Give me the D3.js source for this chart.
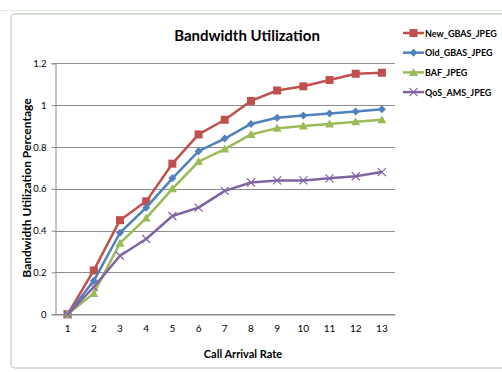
<!DOCTYPE html>
<html>
<head>
<meta charset="utf-8">
<script src="https://cdn.jsdelivr.net/npm/d3@7"></script>
<style>
  body { margin: 0; background: #fff; }
  svg { font-family: Lato, "Open Sans", sans-serif; }
</style>
</head>
<body>
<svg width="502" height="372"></svg>
<script>
const CATEGORIES = [1, 2, 3, 4, 5, 6, 7, 8, 9, 10, 11, 12, 13];
const NEW_GBAS = [0, 0.21, 0.45, 0.54, 0.72, 0.86, 0.93, 1.02, 1.07, 1.09, 1.12, 1.15, 1.155];
const OLD_GBAS = [0, 0.16, 0.39, 0.51, 0.65, 0.78, 0.84, 0.91, 0.94, 0.95, 0.96, 0.97, 0.98];
const BAF = [0, 0.10, 0.34, 0.46, 0.60, 0.73, 0.79, 0.86, 0.89, 0.90, 0.91, 0.92, 0.93];
const QOS_AMS = [0, 0.13, 0.28, 0.36, 0.47, 0.51, 0.59, 0.63, 0.64, 0.64, 0.65, 0.66, 0.68];
const Y_TICKS = [0, 0.2, 0.4, 0.6, 0.8, 1, 1.2];

const series = [
  { name: 'New_GBAS_JPEG', values: NEW_GBAS, color: '#C0504D', marker: 'square' },
  { name: 'Old_GBAS_JPEG', values: OLD_GBAS, color: '#4F81BD', marker: 'diamond' },
  { name: 'BAF_JPEG', values: BAF, color: '#9BBB59', marker: 'triangle' },
  { name: 'QoS_AMS_JPEG', values: QOS_AMS, color: '#8064A2', marker: 'x' }
];

const svg = d3.select('svg');

// chart frame
svg.append('line').attr('x1', 0).attr('x2', 502).attr('y1', 10.5).attr('y2', 10.5)
  .attr('stroke', '#e3e8e0');
svg.append('rect')
  .attr('x', 11).attr('y', 14).attr('width', 500).attr('height', 354)
  .attr('rx', 4)
  .attr('fill', '#fff').attr('stroke', '#c9d7c3').attr('stroke-width', 1.5);

const plot = { left: 54.5, right: 395, top: 63.3, bottom: 314.3 };

const x = d3.scaleBand().domain(CATEGORIES).range([plot.left, plot.right]);
const y = d3.scaleLinear().domain([0, 1.2]).range([plot.bottom, plot.top]);

// grid
svg.append('g')
  .selectAll('line')
  .data(Y_TICKS)
  .join('line')
  .attr('x1', plot.left).attr('x2', plot.right)
  .attr('y1', d => Math.round(y(d)) + 0.5).attr('y2', d => Math.round(y(d)) + 0.5)
  .attr('stroke', '#8c8c8c').attr('stroke-width', 1);

// y axis
const yAxis = svg.append('g')
  .attr('transform', `translate(${Math.round(plot.left) + 0.5},0)`)
  .call(d3.axisLeft(y).tickValues(Y_TICKS).tickSize(4).tickPadding(5).tickFormat(d => d));
yAxis.select('.domain').attr('stroke', '#8c8c8c');
yAxis.selectAll('.tick line').attr('stroke', '#8c8c8c');
yAxis.selectAll('text').attr('font-size', 9.5).attr('fill', '#000').attr('font-family', 'Lato, sans-serif');

// x axis
const xAxis = svg.append('g')
  .attr('transform', `translate(0,${Math.round(plot.bottom) + 0.5})`)
  .call(d3.axisBottom(x).tickSize(0).tickPadding(10));
xAxis.select('.domain').attr('stroke', '#8c8c8c');
xAxis.selectAll('text').attr('font-size', 10).attr('fill', '#000').attr('font-family', 'Lato, sans-serif');

const cx = d => x(d) + x.bandwidth() / 2;

const line = d3.line()
  .x((d, i) => cx(CATEGORIES[i]))
  .y(d => y(d));

function drawMarker(g, type, color) {
  if (type === 'square') {
    g.append('rect').attr('x', -4).attr('y', -4).attr('width', 8).attr('height', 8).attr('fill', color);
  } else if (type === 'diamond') {
    g.append('path').attr('d', 'M0,-4L4,0L0,4L-4,0Z').attr('fill', color);
  } else if (type === 'triangle') {
    g.append('path').attr('d', 'M0,-4.5L4.5,3.5L-4.5,3.5Z').attr('fill', color);
  } else {
    g.append('path').attr('d', 'M-4,-4L4,4M-4,4L4,-4').attr('stroke', color).attr('stroke-width', 1.2).attr('fill', 'none');
  }
}

series.forEach(s => {
  svg.append('path')
    .datum(s.values)
    .attr('d', line)
    .attr('fill', 'none')
    .attr('stroke', s.color)
    .attr('stroke-width', 2.5)
    .attr('stroke-linejoin', 'round');
  svg.append('g')
    .selectAll('g')
    .data(s.values)
    .join('g')
    .attr('transform', (d, i) => `translate(${cx(CATEGORIES[i])},${y(d)})`)
    .each(function() { drawMarker(d3.select(this), s.marker, s.color); });
});

// titles
svg.append('text')
  .attr('x', 247).attr('y', 41)
  .attr('text-anchor', 'middle')
  .attr('font-size', 15).attr('font-weight', 'bold')
  .text('Bandwidth  Utilization');

svg.append('text')
  .attr('x', 243).attr('y', 358)
  .attr('text-anchor', 'middle')
  .attr('font-size', 11).attr('font-weight', 'bold')
  .text('Call Arrival Rate');

svg.append('text')
  .attr('transform', 'translate(31,188) rotate(-90)')
  .attr('text-anchor', 'middle')
  .attr('font-size', 12).attr('font-weight', 'bold')
  .text('Bandwidth Utilization Percentage');

// legend
const legend = svg.append('g').attr('transform', 'translate(403,33)');
series.forEach((s, i) => {
  const row = legend.append('g').attr('transform', `translate(0,${i * 19.7})`);
  row.append('line').attr('x1', 0).attr('x2', 21).attr('stroke', s.color).attr('stroke-width', 2.5);
  const m = row.append('g').attr('transform', 'translate(10.5,0)');
  drawMarker(m, s.marker, s.color);
  row.append('text').attr('x', 22).attr('y', 3.5)
    .attr('font-size', 9).attr('font-weight', 'bold')
    .text(s.name);
});
</script>
</body>
</html>
